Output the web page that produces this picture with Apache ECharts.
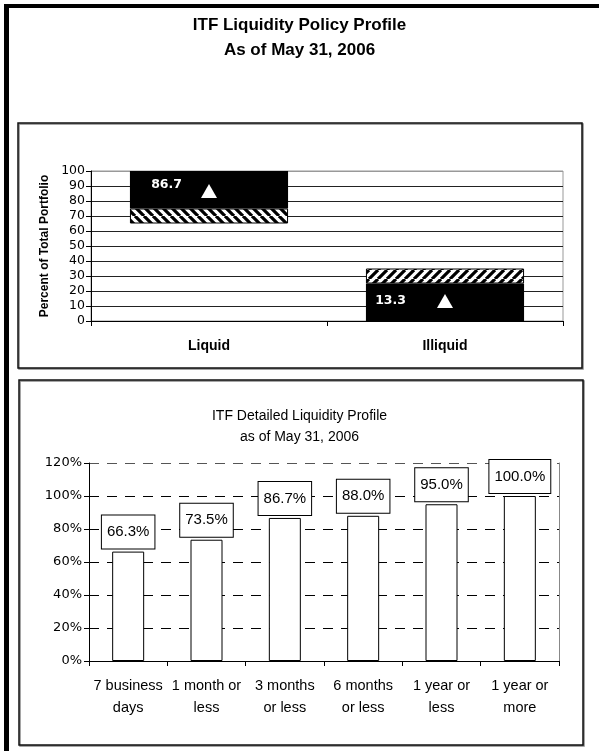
<!DOCTYPE html>
<html>
<head>
<meta charset="utf-8">
<script src="https://cdn.jsdelivr.net/npm/echarts@6/dist/echarts.min.js"></script>
<style>
  html, body { margin: 0; padding: 0; background: #fff; }
  #chart { width: 599px; height: 751px; }
</style>
</head>
<body>
<div id="chart"></div>
<script>
// top chart: policy bands (stacked segments) and actual values
var policyCategories = ['Liquid', 'Illiquid'];
var baseGap = [65, 0];
var blackBelow = [0, 25];
var hatchBand = [10, 10];
var blackAbove = [25, 0];
var actualValues = [86.7, 13.3];

// bottom chart: detailed profile
var detailCategories = ['7 business\ndays', '1 month or\nless', '3 months\nor less', '6 months\nor less', '1 year or\nless', '1 year or\nmore'];
var detailValues = [66.3, 73.5, 86.7, 88.0, 95.0, 100.0];

function makeHatch(forward) {
  var c = document.createElement('canvas');
  var n = 9;
  c.width = n; c.height = n;
  var ctx = c.getContext('2d');
  ctx.fillStyle = '#fff';
  ctx.fillRect(0, 0, n, n);
  ctx.strokeStyle = '#000';
  ctx.lineWidth = 3.2;
  ctx.beginPath();
  for (var k = -1; k <= 1; k++) {
    if (forward) {
      ctx.moveTo(k * n, n); ctx.lineTo(k * n + n, 0);
    } else {
      ctx.moveTo(k * n, 0); ctx.lineTo(k * n + n, n);
    }
  }
  ctx.stroke();
  return { image: c, repeat: 'repeat' };
}

var myChart = echarts.init(document.getElementById('chart'));

var topGridColors = [];
for (var i = 0; i < 10; i++) topGridColors.push('#222');
topGridColors.push('#999');

var option = {
  animation: false,
  backgroundColor: '#fff',
  title: [
    {
      text: 'ITF Liquidity Policy Profile\nAs of May 31, 2006',
      left: 'center',
      top: 8,
      textStyle: { fontFamily: 'Liberation Sans, Arial', fontSize: 17, fontWeight: 'bold', color: '#000', lineHeight: 25 }
    },
    {
      text: 'ITF Detailed Liquidity Profile\nas of May 31, 2006',
      left: 'center',
      top: 401,
      textStyle: { fontFamily: 'Liberation Sans, Arial', fontSize: 14, fontWeight: 'normal', color: '#000', lineHeight: 21 }
    }
  ],
  graphic: [
    { type: 'rect', z: -10, shape: { x: 4, y: 4, width: 595, height: 4 }, style: { fill: '#000' } },
    { type: 'rect', z: -10, shape: { x: 4, y: 4, width: 5, height: 747 }, style: { fill: '#000' } },
    { type: 'rect', z: -10, shape: { x: 18, y: 123, width: 564, height: 245 },
      style: { fill: '#fff', stroke: '#111', lineWidth: 1.5, shadowColor: '#888', shadowOffsetX: 1, shadowOffsetY: 1 } },
    { type: 'rect', z: -10, shape: { x: 19, y: 380, width: 564, height: 365 },
      style: { fill: '#fff', stroke: '#111', lineWidth: 1.5, shadowColor: '#888', shadowOffsetX: 1, shadowOffsetY: 1 } }
  ],
  grid: [
    { left: 91, top: 171, width: 472, height: 150, show: true, borderColor: '#999', borderWidth: 1, backgroundColor: 'transparent' },
    { left: 89, top: 463, width: 470, height: 198 }
  ],
  xAxis: [
    {
      type: 'category', gridIndex: 0, data: policyCategories,
      axisLine: { lineStyle: { color: '#000', width: 1 } },
      axisTick: { show: true, length: 5, lineStyle: { color: '#000' } },
      axisLabel: { margin: 18, color: '#000', fontFamily: 'Liberation Sans, Arial', fontSize: 14, fontWeight: 'bold' }
    },
    {
      type: 'category', gridIndex: 1, data: detailCategories,
      axisLine: { lineStyle: { color: '#000', width: 1 } },
      axisTick: { show: true, length: 5, lineStyle: { color: '#000' } },
      axisLabel: { interval: 0, margin: 14, color: '#000', fontFamily: 'Liberation Sans, Arial', fontSize: 14.5, lineHeight: 22 }
    }
  ],
  yAxis: [
    {
      type: 'value', gridIndex: 0, min: 0, max: 100, interval: 10,
      name: 'Percent of Total Portfolio',
      nameLocation: 'middle', nameGap: 40,
      nameTextStyle: { fontFamily: 'Liberation Sans, Arial', fontSize: 12, fontWeight: 'bold', color: '#000' },
      axisLine: { show: true, lineStyle: { color: '#000' } },
      axisTick: { show: true, length: 5, lineStyle: { color: '#000' } },
      axisLabel: { margin: 6, color: '#000', fontFamily: 'DejaVu Sans', fontSize: 12.5 },
      splitLine: { show: true, lineStyle: { color: topGridColors, width: 1 } }
    },
    {
      type: 'value', gridIndex: 1, min: 0, max: 120, interval: 20,
      axisLine: { show: true, lineStyle: { color: '#000' } },
      axisTick: { show: true, length: 5, lineStyle: { color: '#000' } },
      axisLabel: { margin: 7, color: '#000', fontFamily: 'DejaVu Sans', fontSize: 13, formatter: '{value}%' },
      splitLine: { show: true, lineStyle: { color: ['#000', '#000', '#000', '#000', '#000', '#000', '#555'], type: [10, 8], width: 1 } }
    },
    {
      type: 'value', gridIndex: 1, min: 0, max: 120, position: 'right',
      axisLine: { show: true, lineStyle: { color: '#888' } },
      axisTick: { show: false }, axisLabel: { show: false }, splitLine: { show: false }
    }
  ],
  series: [
    {
      name: 'base', type: 'bar', stack: 'policy', xAxisIndex: 0, yAxisIndex: 0,
      barCategoryGap: '33%', silent: true,
      itemStyle: { color: 'transparent' },
      data: baseGap
    },
    {
      name: 'blackBelow', type: 'bar', stack: 'policy', xAxisIndex: 0, yAxisIndex: 0,
      barCategoryGap: '33%',
      itemStyle: { color: '#000' },
      data: blackBelow
    },
    {
      name: 'hatch', type: 'bar', stack: 'policy', xAxisIndex: 0, yAxisIndex: 0,
      barCategoryGap: '33%',
      itemStyle: { borderColor: '#000', borderWidth: 1 },
      data: hatchBand.map(function (v, i) {
        return { value: v, itemStyle: { color: makeHatch(i === 1), borderColor: '#000', borderWidth: 1 } };
      })
    },
    {
      name: 'blackAbove', type: 'bar', stack: 'policy', xAxisIndex: 0, yAxisIndex: 0,
      barCategoryGap: '33%',
      itemStyle: { color: '#000' },
      data: blackAbove
    },
    {
      name: 'actual', type: 'scatter', xAxisIndex: 0, yAxisIndex: 0,
      symbol: 'triangle', symbolSize: [16, 14], z: 5,
      itemStyle: { color: '#fff', opacity: 1 },
      label: {
        show: true, position: 'left', color: '#fff',
        fontFamily: 'DejaVu Sans', fontWeight: 'bold', fontSize: 12.5,
        formatter: function (p) { return p.value[1].toFixed(1); }
      },
      data: actualValues.map(function (v, i) {
        return { value: [i, v], label: { distance: i === 0 ? 19 : 31, offset: i === 0 ? [0, -6] : [0, 0] } };
      })
    },
    {
      name: 'detail', type: 'bar', xAxisIndex: 1, yAxisIndex: 1,
      barWidth: 32,
      itemStyle: { color: '#fff', borderColor: '#000', borderWidth: 1 },
      label: {
        show: true, position: 'top', distance: 3,
        color: '#000', fontFamily: 'Liberation Sans Narrow, Liberation Sans, Arial', fontSize: 15, lineHeight: 17,
        backgroundColor: '#fff', borderColor: '#000', borderWidth: 1, padding: [8, 5, 8, 5],
        formatter: function (p) { return p.value.toFixed(1) + '%'; }
      },
      data: detailValues
    }
  ]
};

myChart.setOption(option);
</script>
</body>
</html>
